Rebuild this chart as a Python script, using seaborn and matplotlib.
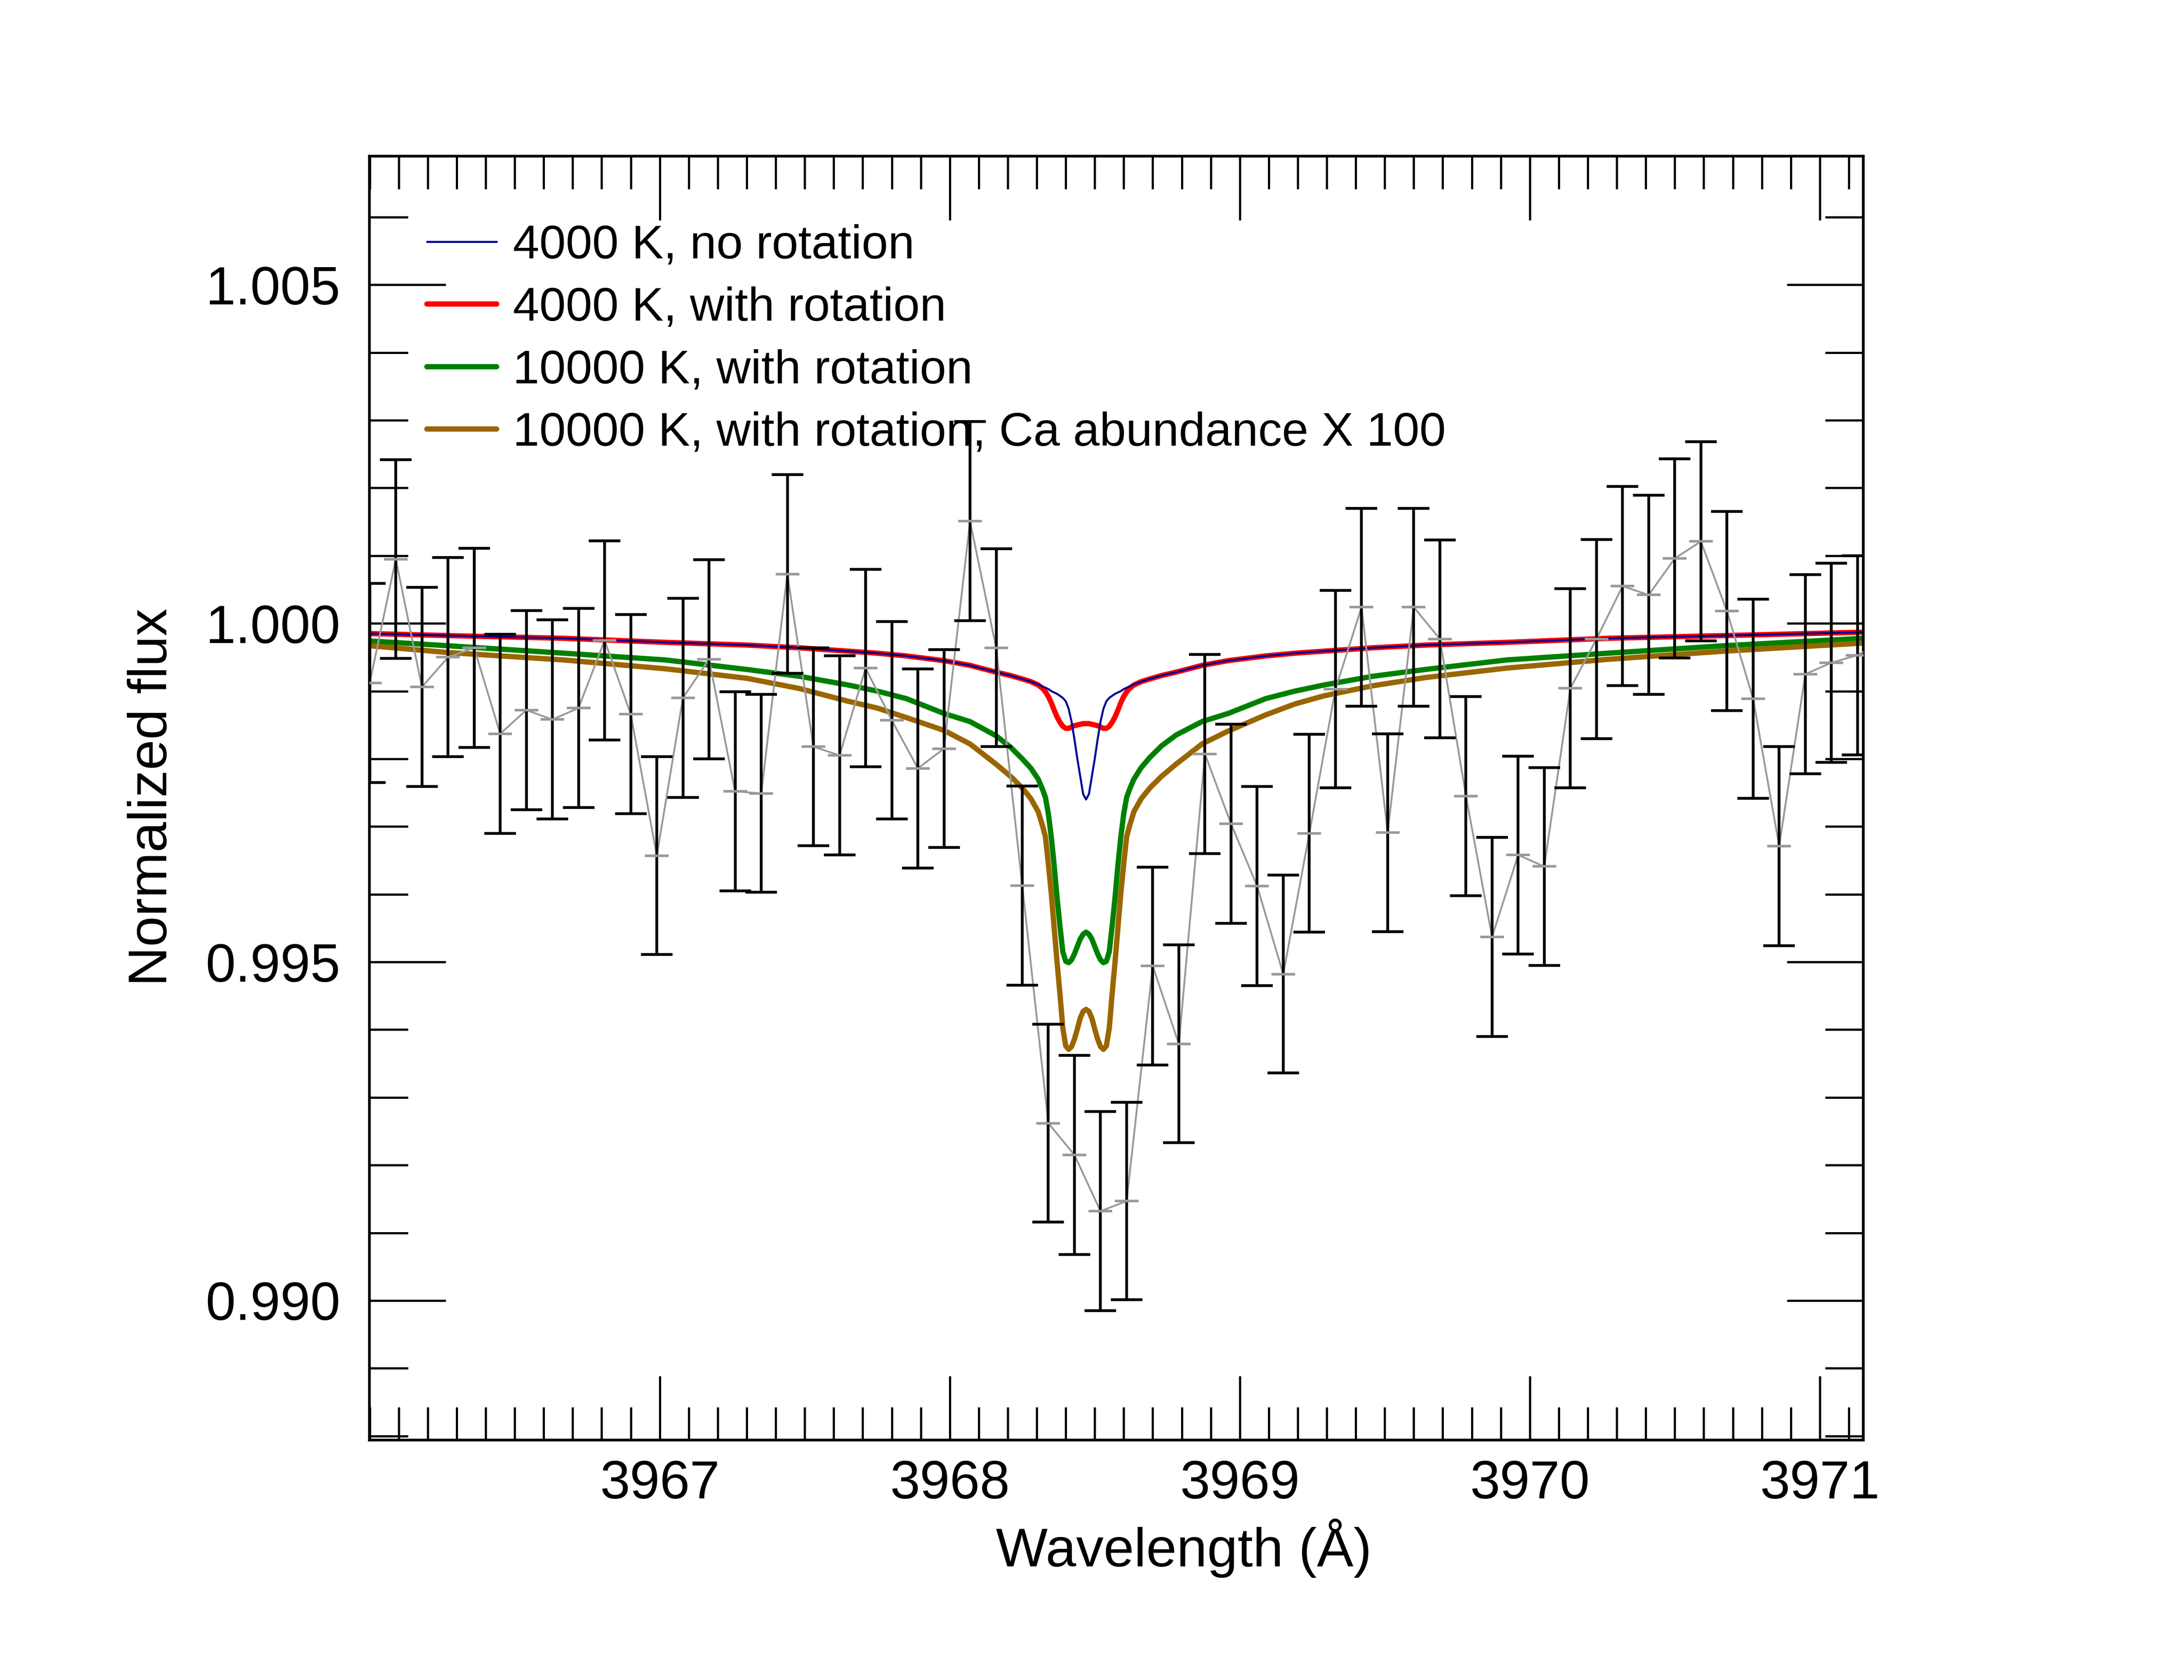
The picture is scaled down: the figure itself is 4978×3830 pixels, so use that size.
import numpy as np
import pandas as pd
import matplotlib
matplotlib.use('Agg')
import matplotlib.pyplot as plt
import seaborn as sns
from matplotlib.ticker import MultipleLocator, FormatStrFormatter

# Style
sns.set_style('ticks')
plt.rcParams['font.family'] = ['Liberation Sans', 'DejaVu Sans']
for key in ['text.color', 'axes.labelcolor', 'xtick.color', 'ytick.color', 'axes.edgecolor']:
    plt.rcParams[key] = 'black'

# Observed spectrum (wavelength in Angstrom, normalized flux, 1-sigma error)
data_wave = [3966.00, 3966.09, 3966.18, 3966.27, 3966.36, 3966.45, 3966.54, 3966.63,
             3966.72, 3966.81, 3966.90, 3966.99, 3967.08, 3967.17, 3967.26, 3967.35,
             3967.44, 3967.53, 3967.62, 3967.71, 3967.80, 3967.89, 3967.98, 3968.07,
             3968.16, 3968.25, 3968.34, 3968.43, 3968.52, 3968.61, 3968.70, 3968.79,
             3968.88, 3968.97, 3969.06, 3969.15, 3969.24, 3969.33, 3969.42, 3969.51,
             3969.60, 3969.69, 3969.78, 3969.87, 3969.96, 3970.05, 3970.14, 3970.23,
             3970.32, 3970.41, 3970.50, 3970.59, 3970.68, 3970.77, 3970.86, 3970.95,
             3971.04, 3971.13, 3971.22]
data_flux = [0.99912, 1.00095, 0.99906, 0.99950, 0.99964, 0.99837, 0.99872, 0.99858,
             0.99875, 0.99975, 0.99866, 0.99657, 0.99890, 0.99947, 0.99752, 0.99749,
             1.00073, 0.99818, 0.99805, 0.99934, 0.99857, 0.99786, 0.99815, 1.00151,
             0.99964, 0.99613, 0.99262, 0.99215, 0.99132, 0.99147, 0.99494, 0.99379,
             0.99807, 0.99704, 0.99612, 0.99482, 0.99690, 0.99903, 1.00024, 0.99691,
             1.00024, 0.99977, 0.99745, 0.99537, 0.99658, 0.99641, 0.99904, 0.99977,
             1.00055, 1.00042, 1.00096, 1.00121, 1.00018, 0.99889, 0.99671, 0.99925,
             0.99942, 0.99953, 0.99975]
data_err = [0.00147, 0.00147, 0.00147, 0.00147, 0.00147, 0.00147, 0.00147, 0.00147,
            0.00147, 0.00147, 0.00147, 0.00146, 0.00147, 0.00147, 0.00147, 0.00146,
            0.00147, 0.00146, 0.00147, 0.00146, 0.00146, 0.00147, 0.00146, 0.00147,
            0.00146, 0.00147, 0.00146, 0.00147, 0.00147, 0.00146, 0.00146, 0.00146,
            0.00147, 0.00147, 0.00147, 0.00146, 0.00146, 0.00146, 0.00146, 0.00146,
            0.00146, 0.00146, 0.00147, 0.00147, 0.00146, 0.00146, 0.00147, 0.00147,
            0.00147, 0.00147, 0.00147, 0.00147, 0.00147, 0.00147, 0.00147, 0.00147,
            0.00147, 0.00147, 0.00147]

model_wave = [3966.00, 3966.27, 3966.67, 3967.02, 3967.30, 3967.48, 3967.65, 3967.75,
              3967.85, 3967.98, 3968.07, 3968.16, 3968.21, 3968.25, 3968.28, 3968.305,
              3968.32, 3968.33, 3968.34, 3968.35, 3968.36, 3968.37, 3968.38, 3968.39,
              3968.40, 3968.41, 3968.42, 3968.43, 3968.44, 3968.45, 3968.46, 3968.47,
              3968.48, 3968.49, 3968.50, 3968.51, 3968.52, 3968.53, 3968.54, 3968.55,
              3968.56, 3968.57, 3968.58, 3968.59, 3968.60, 3968.61, 3968.62, 3968.635,
              3968.66, 3968.69, 3968.73, 3968.78, 3968.87, 3968.96, 3969.09, 3969.19,
              3969.29, 3969.46, 3969.64, 3969.92, 3970.27, 3970.67, 3971.15]
flux_4000_norot = [0.99985, 0.99982, 0.99978, 0.99972, 0.99968, 0.99964, 0.99959, 0.99956,
                   0.99952, 0.99945, 0.99938, 0.99928, 0.99923, 0.99918, 0.99914, 0.99910,
                   0.99907, 0.99905, 0.99903, 0.99900, 0.99898, 0.99896, 0.99893, 0.99890,
                   0.99885, 0.99874, 0.99855, 0.99829, 0.99800, 0.99774, 0.99748, 0.99740,
                   0.99748, 0.99774, 0.99800, 0.99829, 0.99855, 0.99874, 0.99885, 0.99890,
                   0.99893, 0.99896, 0.99898, 0.99900, 0.99903, 0.99905, 0.99907, 0.99910,
                   0.99914, 0.99918, 0.99923, 0.99928, 0.99938, 0.99945, 0.99952, 0.99956,
                   0.99959, 0.99964, 0.99968, 0.99972, 0.99978, 0.99982, 0.99987]
flux_4000_rot = [0.99985, 0.99982, 0.99978, 0.99972, 0.99968, 0.99964, 0.99959, 0.99956,
                 0.99952, 0.99945, 0.99938, 0.99928, 0.99923, 0.99918, 0.99914, 0.99909,
                 0.99904, 0.99899, 0.99892, 0.99883, 0.99872, 0.99862, 0.99854, 0.99848,
                 0.99845, 0.99845, 0.99847, 0.99849, 0.99850, 0.99851, 0.99852, 0.99852,
                 0.99852, 0.99851, 0.99850, 0.99849, 0.99847, 0.99845, 0.99845, 0.99848,
                 0.99854, 0.99862, 0.99872, 0.99883, 0.99892, 0.99899, 0.99904, 0.99909,
                 0.99914, 0.99918, 0.99923, 0.99928, 0.99938, 0.99945, 0.99952, 0.99956,
                 0.99959, 0.99964, 0.99968, 0.99972, 0.99978, 0.99982, 0.99987]
flux_10000_rot = [0.99974, 0.99967, 0.99956, 0.99946, 0.99932, 0.99922, 0.99909, 0.99900,
                  0.99889, 0.99867, 0.99855, 0.99834, 0.99817, 0.99800, 0.99786, 0.99770,
                  0.99755, 0.99743, 0.99719, 0.99685, 0.99643, 0.99595, 0.99553, 0.99515,
                  0.99501, 0.99499, 0.99503, 0.99512, 0.99523, 0.99534, 0.99541, 0.99544,
                  0.99541, 0.99534, 0.99523, 0.99512, 0.99503, 0.99499, 0.99501, 0.99515,
                  0.99553, 0.99595, 0.99643, 0.99685, 0.99719, 0.99743, 0.99755, 0.99770,
                  0.99787, 0.99802, 0.99819, 0.99835, 0.99855, 0.99867, 0.99889, 0.99900,
                  0.99909, 0.99922, 0.99932, 0.99946, 0.99956, 0.99967, 0.99978]
flux_10000_ca = [0.99967, 0.99957, 0.99946, 0.99933, 0.99919, 0.99904, 0.99885, 0.99875,
                 0.99861, 0.99842, 0.99822, 0.99792, 0.99774, 0.99757, 0.99741, 0.99722,
                 0.99701, 0.99685, 0.99645, 0.99602, 0.99551, 0.99500, 0.99453, 0.99402,
                 0.99376, 0.99371, 0.99375, 0.99386, 0.99401, 0.99417, 0.99427, 0.99430,
                 0.99427, 0.99417, 0.99401, 0.99386, 0.99375, 0.99371, 0.99376, 0.99402,
                 0.99453, 0.99500, 0.99551, 0.99602, 0.99645, 0.99685, 0.99701, 0.99722,
                 0.99741, 0.99757, 0.99774, 0.99792, 0.99822, 0.99841, 0.99865, 0.99881,
                 0.99893, 0.99908, 0.99920, 0.99934, 0.99947, 0.99959, 0.99971]

labels = ['4000 K, no rotation', '4000 K, with rotation', '10000 K, with rotation',
          '10000 K, with rotation, Ca abundance X 100']
colors = ['#000096', '#ff0000', '#008000', '#996600']

W, H, DPI = 4978, 3830, 300
fig, ax = plt.subplots(figsize=(W / DPI, H / DPI), dpi=DPI)
fig.subplots_adjust(left=842 / W, right=4247 / W, bottom=1 - 3283 / H, top=1 - 356 / H)

# Model curves (red under blue so the thin blue line sits on top)
sns.lineplot(x=model_wave, y=flux_4000_rot, ax=ax, color=colors[1], lw=2.9, zorder=2)
sns.lineplot(x=model_wave, y=flux_4000_norot, ax=ax, color=colors[0], lw=1.1, zorder=2.1)
sns.lineplot(x=model_wave, y=flux_10000_rot, ax=ax, color=colors[2], lw=2.9, zorder=2)
sns.lineplot(x=model_wave, y=flux_10000_ca, ax=ax, color=colors[3], lw=2.9, zorder=2)
l_red, l_blue, l_green, l_brown = ax.lines[-4:]

# Observed data: grey connecting line, black error bars, grey value ticks
sns.lineplot(x=data_wave, y=data_flux, ax=ax, color='#999999', lw=1.0, zorder=3)
ax.errorbar(data_wave, data_flux, yerr=data_err, fmt='none', ecolor='black',
            elinewidth=1.55, capsize=8.6, capthick=1.55, zorder=4)
ax.plot(data_wave, data_flux, ls='none', marker='_', ms=13, mew=1.4,
        color='#999999', zorder=5)

# Axes
ax.set_xlim(3965.999, 3971.15)
ax.set_ylim(0.98794, 1.00690)
ax.set_xticks([3967, 3968, 3969, 3970, 3971])
ax.set_yticks([0.990, 0.995, 1.000, 1.005])
ax.yaxis.set_major_formatter(FormatStrFormatter('%.3f'))
ax.yaxis.set_minor_locator(MultipleLocator(0.001))
ax.xaxis.set_minor_locator(MultipleLocator(0.1))
ax.tick_params(axis='both', which='both', direction='in', top=True, right=True,
               width=1.2, colors='black', labelsize=29.5)
ax.tick_params(axis='y', which='major', length=41.8, pad=15.8)
ax.tick_params(axis='y', which='minor', length=21)
ax.tick_params(axis='x', which='major', length=35, pad=10.6)
ax.tick_params(axis='x', which='minor', length=18)
for sp in ax.spines.values():
    sp.set_linewidth(1.5)
    sp.set_color('black')

ax.set_xlabel('Wavelength (Å)', fontsize=30)
ax.xaxis.set_label_coords((2698 - 842) / 3405, -(3571 - 3283) / 2927)
ax.xaxis.label.set_verticalalignment('baseline')
ax.set_ylabel('Normalized flux', fontsize=30)
ax.yaxis.set_label_coords(-(842 - 380) / 3405, (3283 - 1817) / 2927)
ax.yaxis.label.set_verticalalignment('baseline')

# Legend
ax.legend([l_blue, l_red, l_green, l_brown], labels, loc='upper left',
          bbox_to_anchor=((973 - 842) / 3405, (3283 - 511) / 2927),
          frameon=False, fontsize=26, handlelength=1.47, handletextpad=0.34,
          labelspacing=0.39, borderpad=0, borderaxespad=0)

fig.savefig('out.png', dpi=DPI)
